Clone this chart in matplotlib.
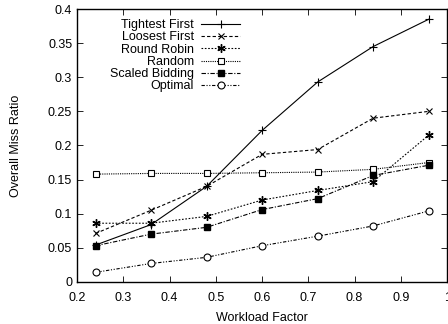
import matplotlib
matplotlib.use("Agg")
import matplotlib.pyplot as plt

plt.rcParams['font.family'] = ['Liberation Sans', 'DejaVu Sans']

workload = [0.24, 0.36, 0.48, 0.60, 0.72, 0.84, 0.96]
tightest = [0.054, 0.084, 0.140, 0.222, 0.293, 0.345, 0.385]
loosest = [0.071, 0.105, 0.140, 0.187, 0.194, 0.240, 0.250]
round_robin = [0.086, 0.086, 0.096, 0.120, 0.134, 0.147, 0.215]
random_ = [0.158, 0.159, 0.159, 0.160, 0.161, 0.165, 0.175]
scaled = [0.053, 0.070, 0.080, 0.106, 0.122, 0.156, 0.171]
optimal = [0.014, 0.027, 0.036, 0.053, 0.067, 0.082, 0.104]

xticks = [0.2, 0.3, 0.4, 0.5, 0.6, 0.7, 0.8, 0.9, 1]
xlabels = ['0.2', '0.3', '0.4', '0.5', '0.6', '0.7', '0.8', '0.9', '1']
yticks = [0, 0.05, 0.1, 0.15, 0.2, 0.25, 0.3, 0.35, 0.4]
ylabels = ['0', '0.05', '0.1', '0.15', '0.2', '0.25', '0.3', '0.35', '0.4']

fs = 9

fig = plt.figure(figsize=(4.48, 3.24), dpi=100)
ax = fig.add_axes([0.172, 0.13, 0.826, 0.842])

lw = 0.8
ax.plot(workload, tightest, color='k', lw=lw, ls='-', marker='+', ms=6,
        mew=0.8, label='Tightest First')
ax.plot(workload, loosest, color='k', lw=lw, ls=(0, (3, 2)), marker='x', ms=5,
        mew=0.8, label='Loosest First')
ax.plot(workload, round_robin, color='k', lw=lw, ls=(0, (1.5, 1.5)), marker=(6, 2, 0),
        ms=6, mew=1.0, label='Round Robin')
ax.plot(workload, random_, color='k', lw=lw, ls=(0, (1, 1)), marker='s', ms=5,
        mfc='white', mew=0.8, label='Random')
ax.plot(workload, scaled, color='k', lw=lw, ls=(0, (4, 1.5, 1, 1.5)), marker='s', ms=5,
        mfc='k', label='Scaled Bidding')
ax.plot(workload, optimal, color='k', lw=lw, ls=(0, (3, 1.5, 1, 1.5, 1, 1.5)), marker='o',
        ms=5, mfc='white', mew=0.8, label='Optimal')

ax.set_xlim(0.2, 1.0)
ax.set_ylim(0, 0.4)
ax.set_xticks(xticks)
ax.set_xticklabels(xlabels)
ax.set_yticks(yticks)
ax.set_yticklabels(ylabels)
ax.tick_params(direction='in', top=True, right=True, labelsize=fs, length=4, width=0.6)
ax.tick_params(axis='x', pad=7)
for s in ax.spines.values():
    s.set_linewidth(1.0)

ax.set_xlabel('Workload Factor', fontsize=fs, labelpad=6)
ax.set_ylabel('Overall Miss Ratio', fontsize=fs, labelpad=19)

ax.legend(loc='upper left', bbox_to_anchor=(0.065, 0.995), frameon=False, markerfirst=False,
          fontsize=fs, handlelength=3.1, handletextpad=0.6, labelspacing=0.02,
          borderpad=0.2)

fig.savefig('out.png', dpi=100)
